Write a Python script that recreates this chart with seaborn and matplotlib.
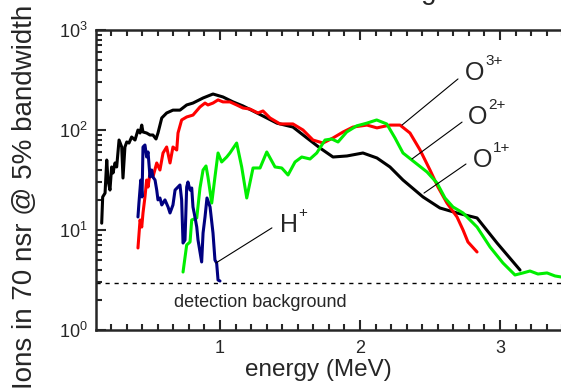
import numpy as np
import pandas as pd
import seaborn as sns
import matplotlib.pyplot as plt
from matplotlib.ticker import MultipleLocator, LogLocator

# O1+ (black)
o1_energy = [0.155, 0.162, 0.179, 0.191, 0.200, 0.214, 0.226, 0.236, 0.250, 0.262,
             0.279, 0.298, 0.307, 0.321, 0.334, 0.350, 0.369, 0.393, 0.414, 0.429,
             0.441, 0.450, 0.476, 0.500, 0.521, 0.543, 0.557, 0.584, 0.619, 0.664,
             0.714, 0.762, 0.807, 0.879, 0.950, 1.021, 1.093, 1.164, 1.236, 1.307,
             1.407, 1.521, 1.621, 1.714, 1.807, 1.907, 2.021, 2.121, 2.214, 2.307,
             2.450, 2.571, 2.693, 2.836, 2.979, 3.143]
o1_counts = [11.7, 21.4, 23.4, 50.1, 31.6, 25.1, 42.7, 37.2, 46.8, 42.7,
             79.4, 67.6, 33.1, 67.6, 75.9, 74.1, 85.1, 79.4, 100, 93.3,
             112, 95.5, 93.3, 89.1, 89.1, 81.3, 93.3, 132, 148, 158,
             158, 178, 186, 209, 229, 214, 191, 174, 155, 138,
             117, 107, 83.2, 66.1, 53.7, 55.0, 58.9, 52.5, 42.7, 31.6,
             21.4, 16.6, 14.8, 13.2, 7.41, 3.98]

# O3+ (red)
o3_energy = [0.414, 0.429, 0.441, 0.450, 0.464, 0.476, 0.486, 0.500, 0.521, 0.548,
             0.571, 0.593, 0.619, 0.643, 0.664, 0.691, 0.700, 0.726, 0.762, 0.807,
             0.857, 0.893, 0.914, 0.950, 0.986, 1.021, 1.071, 1.119, 1.164, 1.214,
             1.271, 1.307, 1.357, 1.429, 1.521, 1.593, 1.664, 1.736, 1.807, 1.879,
             1.950, 2.050, 2.121, 2.214, 2.286, 2.357, 2.429, 2.500, 2.557, 2.621,
             2.693, 2.736, 2.771, 2.836]
o3_counts = [6.61, 12.6, 10.7, 14.8, 21.4, 31.6, 26.9, 37.2, 33.9, 46.8,
             39.8, 58.9, 67.6, 46.8, 67.6, 63.1, 93.3, 126, 135, 141,
             170, 186, 178, 186, 200, 191, 191, 178, 166, 162,
             148, 155, 132, 115, 115, 100, 79.4, 74.1, 83.2, 95.5,
             107, 112, 105, 112, 112, 93.3, 63.1, 39.8, 26.9, 18.6,
             13.5, 10.0, 7.59, 6.03]

# O2+ (green)
o2_energy = [0.736, 0.762, 0.786, 0.798, 0.834, 0.857, 0.879, 0.900, 0.914, 0.941,
             0.964, 0.986, 1.012, 1.048, 1.071, 1.119, 1.155, 1.191, 1.236, 1.286,
             1.334, 1.393, 1.441, 1.486, 1.536, 1.584, 1.643, 1.691, 1.750, 1.798,
             1.843, 1.905, 1.976, 2.048, 2.119, 2.191, 2.250, 2.307, 2.379, 2.479,
             2.550, 2.607, 2.664, 2.736, 2.836, 2.929, 3.021, 3.107, 3.164, 3.214,
             3.271, 3.336, 3.393, 3.436, 3.480]
o2_counts = [3.80, 7.08, 7.59, 12.6, 13.2, 26.3, 39.8, 43.7, 33.9, 18.6,
             33.9, 58.9, 47.9, 53.7, 58.9, 74.1, 42.7, 20.9, 41.7, 41.7,
             60.3, 42.7, 41.7, 35.5, 47.9, 53.7, 51.3, 58.9, 79.4, 81.3,
             75.9, 95.5, 110, 117, 126, 115, 83.2, 58.9, 49.0, 38.0,
             29.5, 20.9, 17.0, 14.8, 10.7, 6.76, 4.68, 3.55, 3.72, 3.89,
             3.63, 3.72, 3.47, 3.39, 3.45]

# H+ (navy)
h_energy = [0.414, 0.421, 0.434, 0.443, 0.450, 0.464, 0.476, 0.486, 0.500, 0.512,
            0.521, 0.536, 0.548, 0.557, 0.571, 0.584, 0.607, 0.629, 0.643, 0.664,
            0.679, 0.693, 0.714, 0.726, 0.736, 0.750, 0.762, 0.771, 0.786, 0.798,
            0.807, 0.821, 0.834, 0.843, 0.869, 0.879, 0.893, 0.907, 0.929, 0.950,
            0.964, 0.976, 0.986, 1.000]
h_counts = [13.5, 18.6, 31.6, 21.4, 67.6, 70.8, 53.7, 60.3, 33.9, 39.8,
            33.9, 31.6, 25.1, 20.0, 20.9, 17.8, 20.0, 17.0, 14.8, 17.8,
            25.1, 26.3, 28.2, 20.0, 7.41, 7.94, 26.9, 30.2, 25.1, 26.3,
            17.0, 13.5, 10.7, 7.94, 4.79, 9.33, 13.5, 20.9, 17.0, 9.33,
            5.01, 4.68, 3.16, 3.09]

background = 2.93

series = [
    (o1_energy, o1_counts, "black"),
    (o3_energy, o3_counts, "#ff0000"),
    (o2_energy, o2_counts, "#00ee00"),
    (h_energy, h_counts, "#000080"),
]

sns.set_style("ticks")
plt.rcParams['font.family'] = ['Liberation Sans', 'DejaVu Sans']
plt.rcParams['mathtext.default'] = 'regular'

fig = plt.figure(figsize=(5.61, 3.92), dpi=100)
ax = fig.add_axes([96 / 561, 62 / 392, 474 / 561, 300 / 392])

for xs, ys, col in series:
    df = pd.DataFrame({"energy": xs, "counts": ys})
    sns.lineplot(data=df, x="energy", y="counts", color=col, lw=2.2,
                 sort=False, estimator=None, ax=ax)

ax.axhline(background, color="black", lw=1, ls=(0, (3, 3.5)))

ax.set_yscale("log")
ax.set_ylim(1, 1000)
ax.set_xlim(0.1143, 3.5)
ax.xaxis.set_major_locator(MultipleLocator(1))
ax.xaxis.set_minor_locator(MultipleLocator(1 / 9))
ax.yaxis.set_minor_locator(LogLocator(base=10, subs=np.arange(2, 10)))

for s in ["top", "bottom", "left"]:
    ax.spines[s].set_linewidth(1.8)
ax.spines["right"].set_visible(False)
ax.tick_params(which="both", direction="in", top=True, right=False, width=1.5)
ax.tick_params(which="major", length=7, labelsize=13)
ax.tick_params(axis="x", which="major", pad=7)
ax.tick_params(axis="y", which="major", pad=6)
ax.tick_params(which="minor", length=4)

ax.set_xlabel("energy (MeV)", fontsize=17.5)
ax.xaxis.set_label_coords(0.469, -0.097)
ax.set_ylabel("")
fig.text(25 / 561, 0.497, "Ions in 70 nsr @ 5% bandwidth", rotation=90,
         ha="center", va="center", fontsize=20)
fig.text(398 / 561, 1 + 1 / 392, "Fig. 3c", fontsize=20, ha="left", va="baseline")

ax.text(0.669, 1.70, "detection background", fontsize=13, ha="left", va="baseline")

# labels with leader lines: (base, superscript, text pos, line start, line end)
labels = [
    ("O", "3+", (2.75, 316), (2.70, 324), (2.30, 112)),
    ("O", "2+", (2.771, 115), (2.729, 120), (2.371, 51.3)),
    ("O", "1+", (2.807, 42.7), (2.757, 45.7), (2.457, 23.4)),
    ("H", "+", (1.429, 9.55), (1.371, 10.5), (0.971, 4.68)),
]
for base, sup, pos, p0, p1 in labels:
    ax.text(pos[0], pos[1], base, fontsize=18, ha="left", va="baseline")
    dx = 14.5 if base == "O" else 13.0
    ax.annotate(sup, xy=pos, xytext=(dx, 11), textcoords="offset points",
                fontsize=11, ha="left", va="baseline")
    ax.annotate("", xy=p1, xytext=p0,
                arrowprops=dict(arrowstyle="-", color="black", lw=0.8,
                                shrinkA=0, shrinkB=0))

fig.savefig("out.png", dpi=100)
